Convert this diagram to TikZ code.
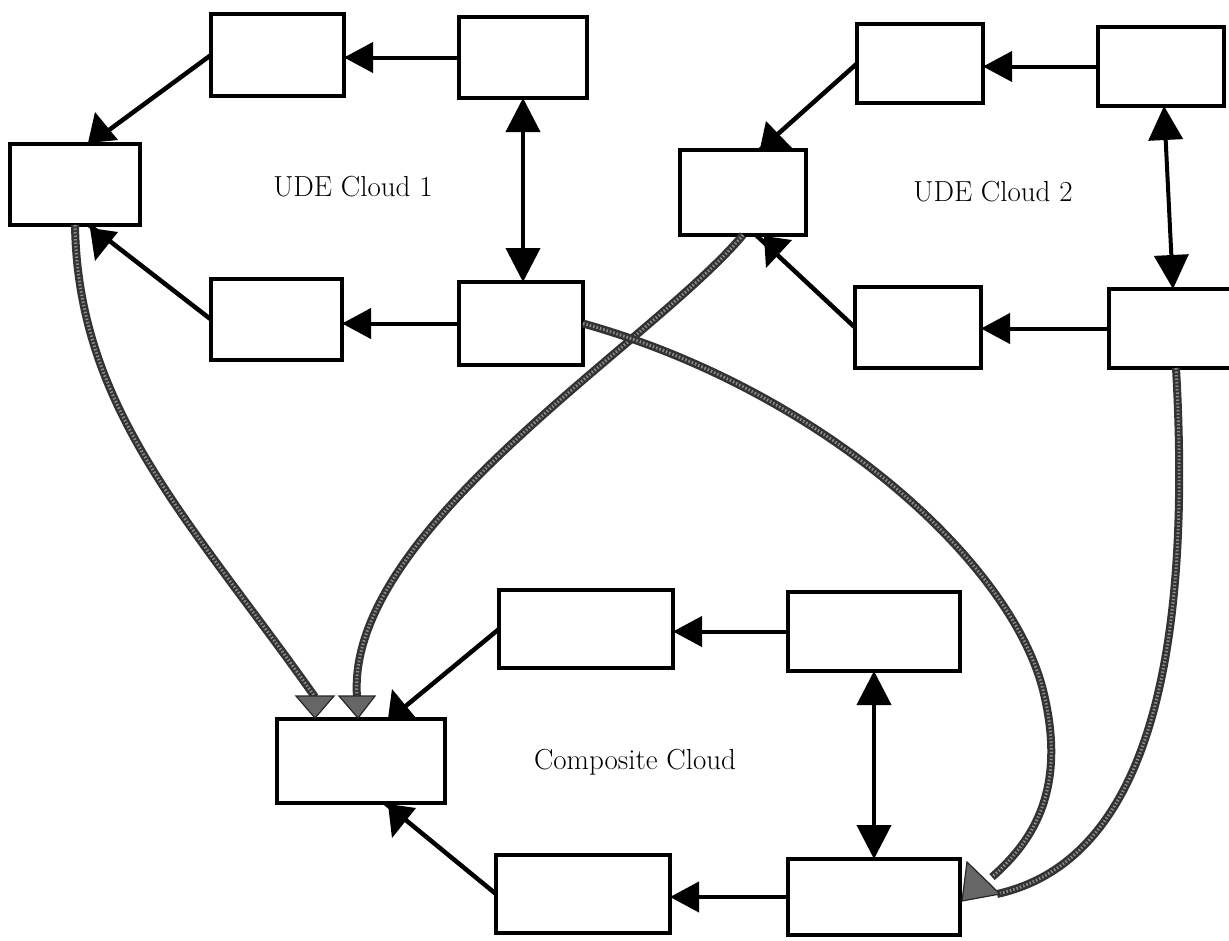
\documentclass[tikz,border=0pt]{standalone}
\usetikzlibrary{arrows.meta,calc}
\begin{document}
\begin{tikzpicture}[x=1pt,y=-1pt,
  box/.style={draw=black, line width=4.5pt, fill=white, inner sep=0pt, outer sep=0pt},
  link/.style={draw=black, line width=4pt, -{Triangle[length=29pt,width=30pt]}},
  twoway/.style={draw=black, line width=4pt,
    {Triangle[length=34pt,width=34pt]}-{Triangle[length=34pt,width=34pt]}},
  wire/.style={draw=black, line width=4.5pt},
  wedge/.style={fill=black},
  gcurve/.style={preaction={draw=black!80, line width=8pt},
    draw=black!45, line width=3pt, dash pattern=on 1.5pt off 2pt},
  gwedge/.style={fill=black!60, draw=black!85, line width=1.2pt},
  lbl/.style={font=\fontsize{29}{34}\selectfont, inner sep=0pt, anchor=base}
]
\useasboundingbox (0,0) rectangle (1229,940);

% ---------- UDE Cloud 1 ----------
\node[box, minimum width=133pt, minimum height=82pt] (c1a) at (277.5,55) {};
\node[box, minimum width=128pt, minimum height=81pt] (c1b) at (523,57.5) {};
\node[box, minimum width=130pt, minimum height=81pt] (c1c) at (75,184.5) {};
\node[box, minimum width=131pt, minimum height=81pt] (c1d) at (276.5,319.5) {};
\node[box, minimum width=124pt, minimum height=83pt] (c1e) at (521,323.5) {};
\node[lbl] (t1) at (353,196) {UDE Cloud 1};

% ---------- UDE Cloud 2 ----------
\node[box, minimum width=126pt, minimum height=79pt] (c2a) at (920,63.5) {};
\node[box, minimum width=126pt, minimum height=79pt] (c2b) at (1161,66.5) {};
\node[box, minimum width=126pt, minimum height=85pt] (c2c) at (743,192.5) {};
\node[box, minimum width=126pt, minimum height=81pt] (c2d) at (918,327.5) {};
\node[box, minimum width=134pt, minimum height=79pt] (c2e) at (1176,328.5) {};
\node[lbl] (t2) at (993,201) {UDE Cloud 2};

% ---------- Composite Cloud ----------
\node[box, minimum width=174pt, minimum height=78pt] (cA) at (586,629) {};
\node[box, minimum width=172pt, minimum height=79pt] (cB) at (874,631.5) {};
\node[box, minimum width=168pt, minimum height=84pt] (cC) at (361,761) {};
\node[box, minimum width=174pt, minimum height=78pt] (cD) at (583,894) {};
\node[box, minimum width=172pt, minimum height=76pt] (cE) at (874,897) {};
\node[lbl] (t3) at (635,769) {Composite Cloud};

% ---------- straight links inside each cloud ----------
\draw[link] (c1b.west) -- (c1b.west -| c1a.east);
\draw[link] (c1e.west) -- (c1e.west -| c1d.east);
\draw[twoway] (c1b.south) -- (c1b.south |- c1e.north);

\draw[link] (c2b.west) -- (c2b.west -| c2a.east);
\draw[link] (c2e.west) -- (c2e.west -| c2d.east);
\draw[twoway] ($(c2b.south)+(3,0)$) -- ($(c2e.north)+(-3,0)$);

\draw[link] (cB.west) -- (cB.west -| cA.east);
\draw[link] (cE.west) -- (cE.west -| cD.east);
\draw[twoway] (cB.south) -- (cB.south |- cE.north);

% ---------- slanted links with their wedge heads ----------
\draw[wire] (c1a.west) -- ($(c1c.north)+(15,0)$);
\fill[wedge] (95,112) -- (88,143) -- (118,140) -- cycle;
\draw[wire] (c1d.west) -- ($(c1c.south)+(14,0)$);
\fill[wedge] (90,228) -- (95,261) -- (118,232) -- cycle;

\draw[wire] (c2a.west) -- ($(c2c.north)+(17,0)$);
\fill[wedge] (766,121) -- (760,149) -- (792,148) -- cycle;
\draw[wire] (c2d.west) -- ($(c2c.south)+(13,0)$);
\fill[wedge] (764,236) -- (766,268) -- (792,240) -- cycle;

\draw[wire] (cA.west) -- ($(cC.north)+(29,0)$);
\fill[wedge] (392,689) -- (388,719) -- (416,718) -- cycle;
\draw[wire] (cD.west) -- ($(cC.south)+(24,0)$);
\fill[wedge] (388,804) -- (392,838) -- (416,808) -- cycle;

% ---------- shaded links into the composite cloud ----------
\coordinate (g1) at ($(cC.north west)+(38,-22)$);
\coordinate (g2) at ($(cC.north west)+(80,-22)$);
\coordinate (g3) at ($(cE.east)+(32,-20)$);
\coordinate (g4) at ($(cE.east)+(37,-3)$);

\draw[gcurve] (c1c.south) .. controls (78,410) and (190,520) .. (g1);
\draw[gcurve] (c2c.south) .. controls (650,345) and (345,530) .. (g2);
\draw[gcurve] (c1e.east) .. controls (820,390) and (1010,560) .. (1043,690)
  .. controls (1068,790) and (1032,842) .. (g3);
\draw[gcurve] (c2e.south) .. controls (1192,650) and (1150,860) .. (g4);

\filldraw[gwedge] (296,696) -- (334,696) -- (315,718) -- cycle;
\filldraw[gwedge] (339,696) -- (375,696) -- (358,718) -- cycle;
\filldraw[gwedge] (967,862) -- (962,901) -- (1000,894) -- cycle;
\end{tikzpicture}
\end{document}
